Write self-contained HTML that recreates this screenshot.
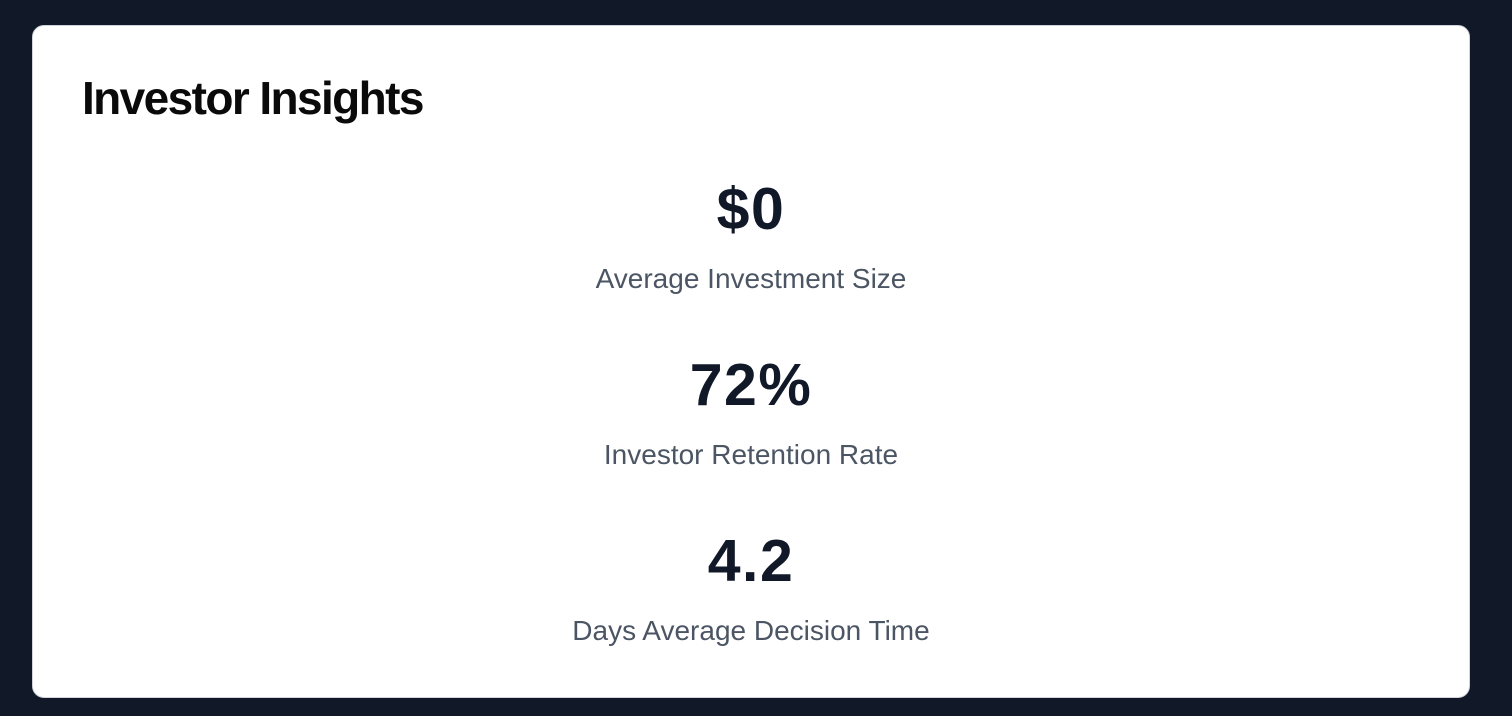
<!DOCTYPE html>
<html><head><meta charset="utf-8"><style>
html,body{margin:0;padding:0;width:1512px;height:716px;background:#111827;overflow:hidden;font-family:"Liberation Sans",sans-serif}
.card{position:absolute;left:32px;top:25px;width:1438px;height:673px;background:#fff;border:1px solid #d1d5db;border-radius:12px;box-sizing:border-box}
.title{position:absolute;left:49px;top:49px;font-size:46px;font-weight:bold;letter-spacing:-1.6px;color:#0a0a0a;line-height:1;margin:0}
.v{position:absolute;left:0;width:100%;text-align:center;font-size:59px;font-weight:bold;color:#111827;letter-spacing:1.5px;line-height:1}
.l{position:absolute;left:0;width:100%;text-align:center;font-size:28px;color:#4b5563;line-height:1}
</style></head><body>
<div class="card">
<h2 class="title">Investor Insights</h2>
<div class="v" style="top:154px">$0</div>
<div class="l" style="top:239px">Average Investment Size</div>
<div class="v" style="top:330px">72%</div>
<div class="l" style="top:415px">Investor Retention Rate</div>
<div class="v" style="top:506px">4.2</div>
<div class="l" style="top:591px">Days Average Decision Time</div>
</div>
</body></html>
